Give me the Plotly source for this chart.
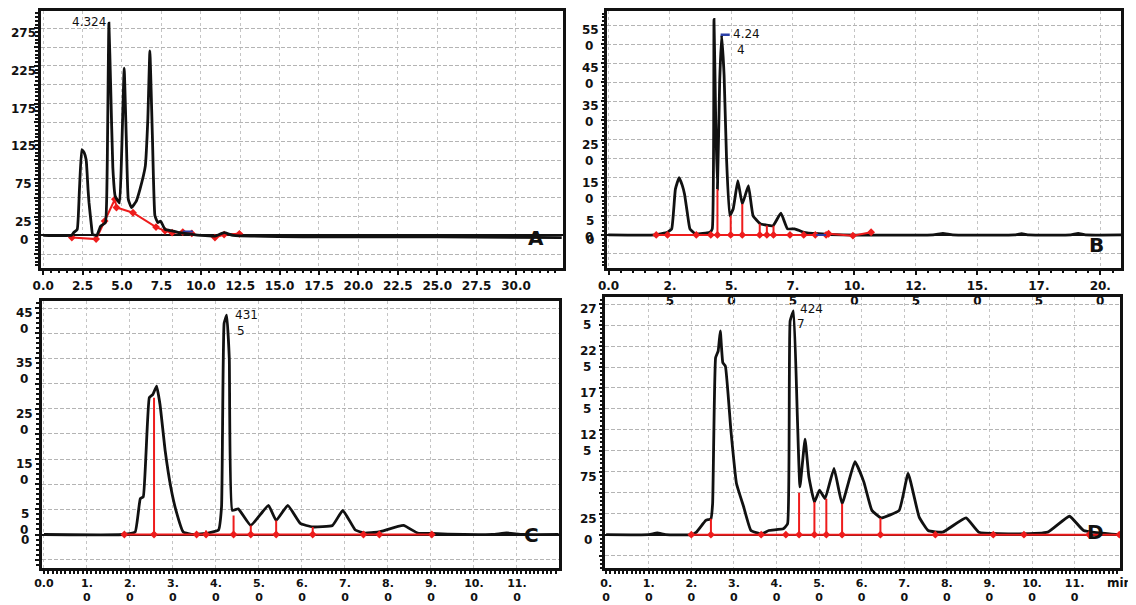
import plotly.graph_objects as go

# ---------------- Panel A ----------------
A_t = [0, 1.8, 1.93, 2.16, 2.3, 2.45, 2.6, 2.73, 2.85, 2.91, 3.05, 3.14, 3.41, 3.64, 3.95, 4.06, 4.17, 4.28,
       4.42, 4.57, 4.84, 4.98, 5.14, 5.27, 5.4, 5.6, 5.9, 6.14, 6.48, 6.64, 6.77, 6.93, 7.09, 7.27, 7.45,
       7.73, 8.18, 8.64, 9.55, 10.0, 10.9, 11.48, 12.05, 17.05, 25.2, 32.9]
A_v = [0, 0, 3.5, 8, 60, 114, 110, 100, 60, 43, 15, 1, 0, 12, 17, 87, 282, 200,
       90, 52, 43, 110, 222, 132, 48, 37, 45, 61, 92, 154, 245, 132, 26, 17, 19,
       8, 6, 3.5, 1, 0, -1, 3.5, 0, -2, -2, -3]
A_red1_t = [1.82, 3.36, 3.9, 4.55, 4.65, 5.7, 7.16, 7.73, 8.18, 8.86, 9.43]
A_red1_v = [-3, -5, 19, 48, 37, 30, 11, 6, 3.5, 4.4, 2.6]
A_red2_t = [10.9, 11.48, 12.45]
A_red2_v = [-3, 1, 2]
A_blue_t = [8.86, 9.5]
A_blue_v = [5, 5]

# ---------------- Panel B ----------------
B_t = [0, 1.9, 2.4, 2.57, 2.72, 2.87, 3.0, 3.09, 3.2, 3.31, 3.53, 4.12, 4.22, 4.29, 4.36, 4.43, 4.52,
       4.6, 4.7, 4.8, 4.93, 5.07, 5.26, 5.44, 5.69, 5.88, 6.18, 6.4, 6.69, 7.01, 7.28, 7.57, 7.94, 8.53,
       9.5, 13.2, 13.6, 14.0, 16.5, 16.8, 17.1, 18.8, 19.1, 19.4, 20.85]
B_v = [0, 0, 7, 16, 120, 150, 130, 107, 60, 16, 3, 7, 16, 565, 300, 120, 400,
       524, 420, 200, 50, 68, 142, 81, 129, 50, 29, 26, 24, 57, 16, 16, 7, 3,
       0, 0, 4, 0, 0, 3, 0, 0, 4, 0, 0]
B_base_t = [1.94, 2.40, 3.57, 4.16, 4.43, 4.97, 5.44, 6.15, 6.44, 6.71, 7.38, 7.94, 8.41]
B_base_v = [0, 0, 0, 0, 0, 0, 0, 0, 0, 0, 0, 0, 0]
B_drop_t = [4.43, 4.97, 5.44, 6.15, 6.44, 6.71]
B_drop_v = [120, 50, 81, 29, 25, 24]
B_red2_t = [8.85, 8.95, 9.94, 10.68]
B_red2_v = [0, 3, -2, 7]
B_blue_t = [8.45, 8.85]
B_blue_v = [0, 0]
B_mark_t = [4.56, 4.93]
B_mark_v = [525, 525]

# ---------------- Panel C ----------------
C_t = [0, 1.84, 2.12, 2.24, 2.31, 2.45, 2.53, 2.62, 2.7, 2.82, 2.95, 3.07, 3.24, 3.48, 3.81, 4.06, 4.13,
       4.19, 4.25, 4.31, 4.38, 4.52, 4.81, 5.22, 5.4, 5.67, 5.96, 6.25, 6.71, 6.95, 7.24, 7.45, 7.78,
       8.36, 8.69, 9.02, 9.76, 10.43, 10.76, 11.13, 12.0]
C_v = [0, 0, 5, 71, 75, 272, 278, 295, 258, 166, 94, 48, 5, 0, 3, 9, 55,
       420, 436, 350, 48, 51, 18, 58, 28, 58, 22, 15, 18, 48, 9, 3, 5,
       18, 3, 2, 0, 0, 3, 0, 0]
C_base_t = [1.87, 2.56, 3.55, 3.77, 4.41, 4.81, 5.4, 6.25, 7.43, 7.8, 9.02]
C_base_v = [0, 0, 0, 0, 0, 0, 0, 0, 0, 0, 0]
C_drop_t = [2.56, 3.77, 4.41, 4.81, 5.4, 6.25]
C_drop_v = [272, 8, 38, 18, 28, 15]

# ---------------- Panel D ----------------
D_t = [0, 1.0, 1.2, 1.4, 2.0, 2.12, 2.34, 2.46, 2.5, 2.57, 2.63, 2.68, 2.74, 2.8, 2.93, 3.06, 3.23, 3.4,
       3.65, 3.82, 4.16, 4.26, 4.32, 4.4, 4.49, 4.55, 4.67, 4.76, 4.89, 5.01, 5.14, 5.35, 5.54, 5.84,
       6.05, 6.24, 6.46, 6.88, 7.09, 7.35, 7.56, 7.9, 8.45, 8.75, 9.69, 10.37, 10.88, 11.21, 12.05]
D_v = [0, 0, 2, 0, 0, 3, 17, 19, 37, 211, 219, 243, 205, 201, 124, 61, 33, 5,
       1, 5, 7, 13, 255, 267, 140, 57, 114, 69, 39, 53, 43, 79, 37, 87,
       63, 29, 20, 29, 73, 21, 5, 3, 20, 3, 1, 3, 22, 5, 0]
D_base_t = [2.0, 2.46, 3.64, 4.22, 4.53, 4.89, 5.17, 5.54, 6.44, 7.73, 9.09, 9.81, 11.34, 12.05]
D_base_v = [0, 0, 0, 0, 0, 0, 0, 0, 0, 0, 0, 0, 0, 0]
D_drop_t = [2.46, 4.53, 4.89, 5.17, 5.54, 6.44]
D_drop_v = [19, 50, 39, 43, 37, 20]

# ---------------- Tick labels ----------------
A_xtick_vals = [0, 2.5, 5, 7.5, 10, 12.5, 15, 17.5, 20, 22.5, 25, 27.5, 30]
A_xtick_text = ["0.0", "2.5", "5.0", "7.5", "10.0", "12.5", "15.0", "17.5", "20.0", "22.5", "25.0", "27.5", "30.0"]
B_xtick_vals = [0, 2.5, 5, 7.5, 10, 12.5, 15, 17.5, 20]
B_xtick_text = ["0.0", "2.<br>5", "5.<br>0", "7.<br>5", "10.<br>0", "12.<br>5", "15.<br>0", "17.<br>5", "20.<br>0"]
C_xtick_vals = list(range(0, 12))
C_xtick_text = ["0.0"] + ["%d.<br>0" % i for i in range(1, 12)]
D_xtick_vals = list(range(0, 12))
D_xtick_text = ["%d.<br>0" % i for i in range(0, 12)]

A_ylabels = [(0, "0", None), (25, "25", None), (75, "75", None), (125, "125", None),
             (175, "175", None), (225, "225", None), (275, "275", None)]
B_ylabels = [(0, "0", None), (50, "5", "0"), (150, "15", "0"), (250, "25", "0"),
             (350, "35", "0"), (450, "45", "0"), (550, "55", "0")]
C_ylabels = [(0, "0", None), (50, "5", "0"), (150, "15", "0"), (250, "25", "0"),
             (350, "35", "0"), (450, "45", "0")]
D_ylabels = [(0, "0", None), (25, "25", None), (75, "75", None), (125, "12", "5"),
             (175, "17", "5"), (225, "22", "5"), (275, "27", "5")]

# ---------------- Figure ----------------
W, H = 1136, 605
OFF_X, OFF_Y = 8, 8  # page body margin of the html file
fig = go.Figure()

BLACK = "#111111"
RED = "#ee1c1c"
BLUE = "#2b3fa8"
FONT = "DejaVu Sans"


def add_curve(t, v, xa, ya):
    fig.add_trace(go.Scatter(x=t, y=v, mode="lines", xaxis=xa, yaxis=ya,
                             line=dict(color=BLACK, width=2.8, shape="spline", smoothing=0.35),
                             hoverinfo="skip"))


def add_red(t, v, xa, ya, markers=True):
    fig.add_trace(go.Scatter(x=t, y=v, mode="lines+markers" if markers else "lines", xaxis=xa, yaxis=ya,
                             line=dict(color=RED, width=2),
                             marker=dict(symbol="diamond", size=6, color=RED),
                             hoverinfo="skip"))


def add_drops(t, v, xa, ya):
    xs, ys = [], []
    for a, b in zip(t, v):
        xs += [a, a, None]
        ys += [0, b, None]
    fig.add_trace(go.Scatter(x=xs, y=ys, mode="lines", xaxis=xa, yaxis=ya,
                             line=dict(color=RED, width=2), hoverinfo="skip"))


# A
add_red(A_red1_t, A_red1_v, "x", "y")
add_red(A_red2_t, A_red2_v, "x", "y")
fig.add_trace(go.Scatter(x=A_blue_t, y=A_blue_v, mode="lines", xaxis="x", yaxis="y",
                         line=dict(color=BLUE, width=2), hoverinfo="skip"))
add_curve(A_t, A_v, "x", "y")
# B
add_curve(B_t, B_v, "x2", "y2")
add_drops(B_drop_t, B_drop_v, "x2", "y2")
add_red(B_base_t, B_base_v, "x2", "y2")
add_red(B_red2_t, B_red2_v, "x2", "y2")
fig.add_trace(go.Scatter(x=B_blue_t, y=B_blue_v, mode="lines", xaxis="x2", yaxis="y2",
                         line=dict(color=BLUE, width=2), hoverinfo="skip"))
fig.add_trace(go.Scatter(x=B_mark_t, y=B_mark_v, mode="lines", xaxis="x2", yaxis="y2",
                         line=dict(color=BLUE, width=2.5), hoverinfo="skip"))
# C
add_curve(C_t, C_v, "x3", "y3")
add_drops(C_drop_t, C_drop_v, "x3", "y3")
add_red(C_base_t, C_base_v, "x3", "y3")
# D
add_curve(D_t, D_v, "x4", "y4")
add_drops(D_drop_t, D_drop_v, "x4", "y4")
add_red(D_base_t, D_base_v, "x4", "y4")


def xaxis(domain, rng, vals, text, minor_dt, anchor, fsize=12, tlen=5):
    return dict(domain=domain, range=rng, anchor=anchor, tickmode="array", tickvals=vals, ticktext=text,
                ticks="outside", ticklen=tlen, tickwidth=1.5, tickcolor=BLACK,
                tickfont=dict(family=FONT, size=fsize, color=BLACK, weight="bold"),
                showline=True, linecolor=BLACK, linewidth=2.5, mirror=True,
                showgrid=True, gridcolor="#c4c4c4", gridwidth=1, griddash="dot", zeroline=False,
                minor=dict(dtick=minor_dt, tick0=0, ticks="outside", ticklen=3, tickcolor=BLACK, showgrid=False))


def yaxis(domain, rng, grid_dt, minor_dt, anchor):
    vals = []
    v = 0
    while v <= rng[1]:
        vals.append(v)
        v += grid_dt
    v = -grid_dt
    while v >= rng[0]:
        vals.append(v)
        v -= grid_dt
    return dict(domain=domain, range=rng, anchor=anchor, tickmode="array", tickvals=vals,
                showticklabels=False, ticks="outside", ticklen=4, tickwidth=1.5, tickcolor=BLACK,
                showline=True, linecolor=BLACK, linewidth=2.5, mirror=True,
                showgrid=True, gridcolor="#b4b4b4", gridwidth=1, griddash="4px,2px",
                zeroline=True, zerolinecolor=BLACK, zerolinewidth=2.2,
                minor=dict(dtick=minor_dt, tick0=0, ticks="outside", ticklen=3, tickcolor=BLACK, showgrid=False))


def px_x(p):
    return min(max((p - OFF_X) / W, 0), 1)


def px_y(p):
    return min(max(1 - (p - OFF_Y) / H, 0), 1)


fig.update_layout(
    width=W, height=H, margin=dict(l=0, r=0, t=0, b=0),
    paper_bgcolor="white", plot_bgcolor="white", showlegend=False,
    xaxis=xaxis([px_x(32), px_x(558)], [-0.15, 32.96], A_xtick_vals, A_xtick_text, 0.5, "y"),
    yaxis=yaxis([px_y(266), px_y(8)], [-43, 298], 25, 5, "x"),
    xaxis2=xaxis([px_x(603), px_x(1121)], [-0.05, 20.85], B_xtick_vals, B_xtick_text, 0.5, "y2"),
    yaxis2=yaxis([px_y(266), px_y(8)], [-86, 587], 50, 10, "x2"),
    xaxis3=xaxis([px_x(33), px_x(554)], [-0.05, 11.97], C_xtick_vals, C_xtick_text, 0.1, "y3", 11, 3),
    yaxis3=yaxis([px_y(568), px_y(299)], [-67, 465], 50, 10, "x3"),
    xaxis4=xaxis([px_x(601), px_x(1120)], [-0.02, 12.07], D_xtick_vals, D_xtick_text, 0.1, "y4", 11, 3),
    yaxis4=yaxis([px_y(568), px_y(295)], [-40, 284], 25, 5, "x4"),
)

ann = []
labfont = dict(family=FONT, size=12, color=BLACK, weight="bold")
for labels, xr, yr in [(A_ylabels, "x domain", "y"), (B_ylabels, "x2 domain", "y2"),
                       (C_ylabels, "x3 domain", "y3"), (D_ylabels, "x4 domain", "y4")]:
    for val, l1, l2 in labels:
        ann.append(dict(x=0, xref=xr, y=val, yref=yr, text=l1, showarrow=False, xanchor="center",
                        yanchor="middle", xshift=-17, yshift=-5, font=labfont))
        if l2:
            ann.append(dict(x=0, xref=xr, y=val, yref=yr, text=l2, showarrow=False, xanchor="center",
                            yanchor="middle", xshift=-18, yshift=-21, font=labfont))

pkfont = dict(family=FONT, size=12, color=BLACK)
ann += [
    dict(x=2.9, y=284, xref="x", yref="y", text="4.324", showarrow=False, font=pkfont),
    dict(x=5.0, y=528, xref="x2", yref="y2", text="4.24", showarrow=False, xanchor="left", font=pkfont),
    dict(x=5.15, y=485, xref="x2", yref="y2", text="4", showarrow=False, xanchor="left", font=pkfont),
    dict(x=4.4, y=437, xref="x3", yref="y3", text="431", showarrow=False, xanchor="left", font=pkfont),
    dict(x=4.44, y=405, xref="x3", yref="y3", text="5", showarrow=False, xanchor="left", font=pkfont),
    dict(x=4.5, y=269, xref="x4", yref="y4", text="424", showarrow=False, xanchor="left", font=pkfont),
    dict(x=4.43, y=251, xref="x4", yref="y4", text="7", showarrow=False, xanchor="left", font=pkfont),
]
letfont = dict(family=FONT, size=20, color=BLACK, weight="bold")
ann += [
    dict(x=31.25, y=-3, xref="x", yref="y", text="A", showarrow=False, font=letfont),
    dict(x=19.84, y=-27, xref="x2", yref="y2", text="B", showarrow=False, font=letfont),
    dict(x=11.33, y=0, xref="x3", yref="y3", text="C", showarrow=False, font=letfont),
    dict(x=11.49, y=3, xref="x4", yref="y4", text="D", showarrow=False, font=letfont),
    dict(x=px_x(1134), y=px_y(583), xref="paper", yref="paper", text="min", showarrow=False,
         xanchor="right", yanchor="middle", font=dict(family=FONT, size=12, color=BLACK, weight="bold")),
]
fig.update_layout(annotations=ann)

fig.write_html("out.html")
